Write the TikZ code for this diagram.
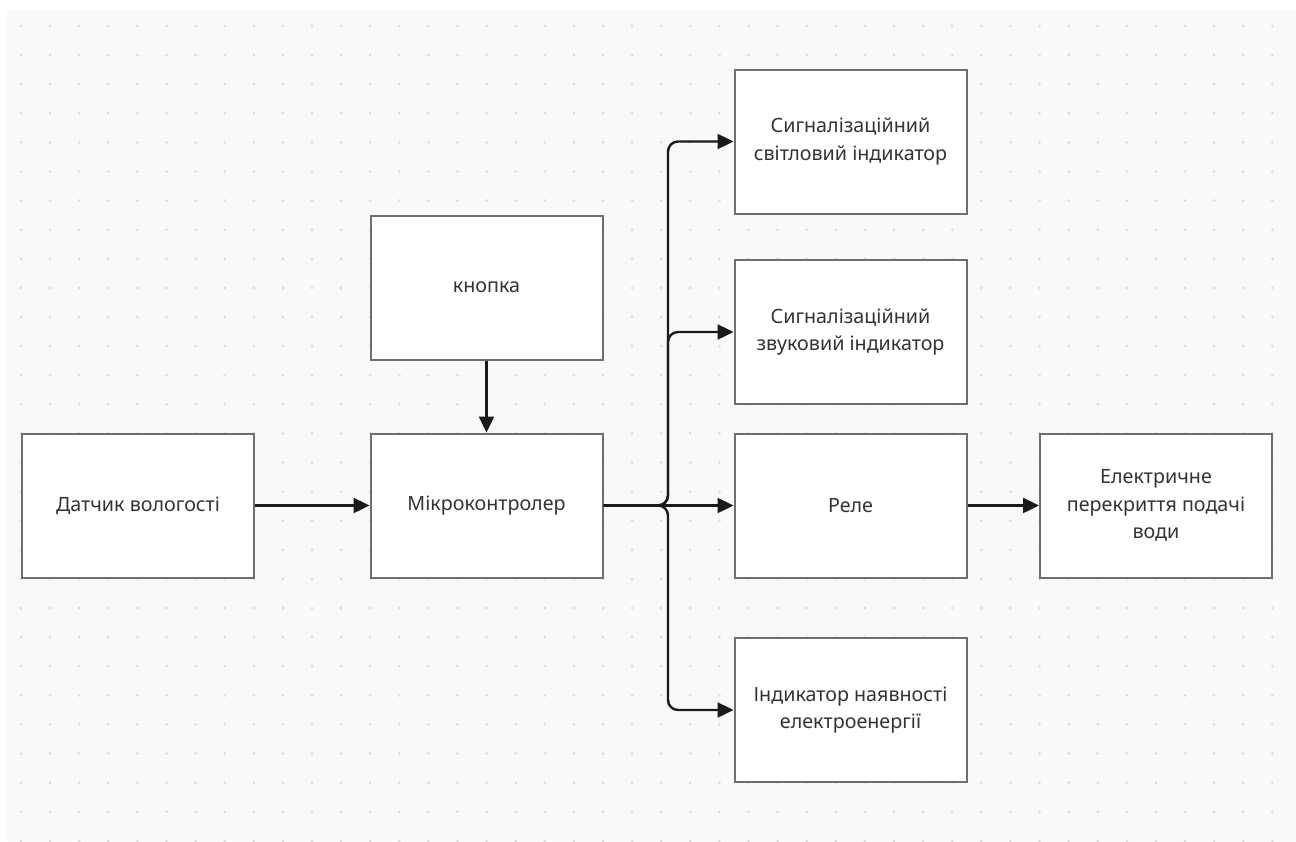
\documentclass[tikz,border=0pt]{standalone}
\usepackage{fontspec}
\setmainfont{Noto Sans}
\usetikzlibrary{arrows.meta}
\definecolor{bg}{RGB}{249,249,251}
\definecolor{griddot}{RGB}{220,220,224}
\definecolor{boxline}{RGB}{110,110,110}
\definecolor{txt}{RGB}{51,51,51}
\definecolor{wirecol}{RGB}{26,26,26}

\begin{document}
\begin{tikzpicture}[x=1pt,y=-1pt,>={Triangle[length=16pt,width=15pt]},
    every node/.style={font=\fontsize{19.7}{27.5}\selectfont,text=txt},
    blk/.style={draw=boxline,line width=2pt,fill=white,minimum width=232pt,minimum height=144pt,align=center,inner sep=0pt},
    wire/.style={->,draw=wirecol,line width=2.4pt,rounded corners=10pt}]
  \useasboundingbox (0,0) rectangle (1296,841);
  \fill[bg] (7,10) rectangle (1296,841);
  \foreach \i in {0,...,43}
    \foreach \j in {0,...,28}
      \fill[griddot] (21+29.1*\i,26+29.1*\j) circle (1.5pt);

  \node[blk] (sensor) at (138,505.5) {Датчик вологості};
  \node[blk] (mcu) at (486.5,505.5) {Мікроконтролер};
  \node[blk] (btn) at (486.5,287.5) {кнопка};
  \node[blk] (light) at (850.5,141.5) {Сигналізаційний\\світловий індикатор};
  \node[blk] (sound) at (850.5,332) {Сигналізаційний\\звуковий індикатор};
  \node[blk] (relay) at (850.5,505.5) {Реле};
  \node[blk] (valve) at (1156,505.5) {Електричне\\перекриття подачі\\води};
  \node[blk] (power) at (850.5,710) {Індикатор наявності\\електроенергії};
  \coordinate (split) at (668,505.5);

  \draw[wire] (sensor) -- (mcu);
  \draw[wire] (btn) -- (mcu);
  \draw[wire] (mcu) -- (relay);
  \draw[wire] (relay) -- (valve);
  \draw[wire] (mcu.east) -- (split) |- (light);
  \draw[wire] (mcu.east) -- (split) |- (sound);
  \draw[wire] (mcu.east) -- (split) |- (power);
\end{tikzpicture}
\end{document}
